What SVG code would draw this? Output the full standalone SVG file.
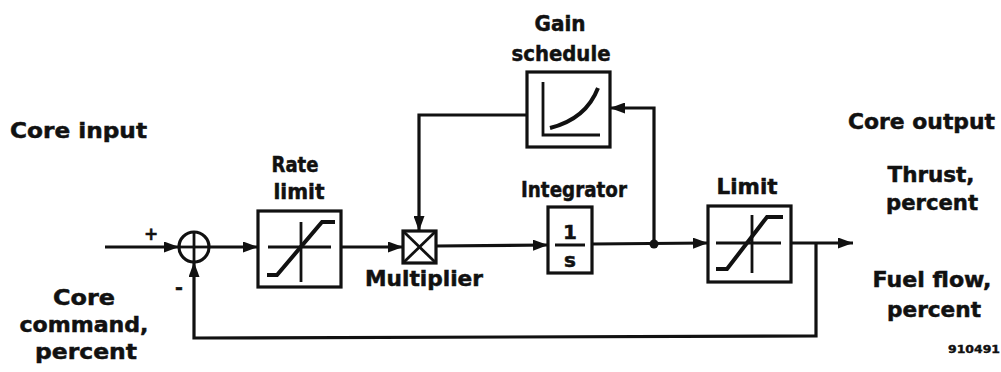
<svg xmlns="http://www.w3.org/2000/svg" width="1001" height="372" viewBox="0 0 1001 372">
<defs>
<style>
.t{font-family:"DejaVu Sans","Liberation Sans",Arial,sans-serif;font-weight:bold;font-size:21px;fill:#111;stroke:#111;stroke-width:0.5}
.c{text-anchor:middle}
.box{fill:#fff;stroke:#111;stroke-width:3.2}
.ln{fill:none;stroke:#111;stroke-width:3.2}
.g{fill:none;stroke:#111;stroke-width:4;stroke-linejoin:miter}
.g2{fill:none;stroke:#111;stroke-width:2.8}
</style>
<marker id="ah" viewBox="0 0 15 11" refX="15" refY="5.5" markerWidth="15" markerHeight="11" markerUnits="userSpaceOnUse" orient="auto">
<path d="M0,0 L15,5.5 L0,11 Z" fill="#111"/>
</marker>
</defs>
<rect width="1001" height="372" fill="#fff"/>

<g id="labels">
<text class="t" x="10" y="138" textLength="137" lengthAdjust="spacingAndGlyphs">Core input</text>
<text class="t" x="848" y="129" textLength="147" lengthAdjust="spacingAndGlyphs">Core output</text>
<text class="t c" x="931" y="182" textLength="87" lengthAdjust="spacingAndGlyphs">Thrust,</text>
<text class="t c" x="932" y="210" textLength="92" lengthAdjust="spacingAndGlyphs">percent</text>
<text class="t c" x="932" y="287" textLength="119" lengthAdjust="spacingAndGlyphs">Fuel flow,</text>
<text class="t c" x="934" y="317" textLength="94" lengthAdjust="spacingAndGlyphs">percent</text>
<text class="t c" x="84" y="305" textLength="62" lengthAdjust="spacingAndGlyphs">Core</text>
<text class="t c" x="84" y="332" textLength="129" lengthAdjust="spacingAndGlyphs">command,</text>
<text class="t c" x="86" y="359" textLength="102" lengthAdjust="spacingAndGlyphs">percent</text>
<text class="t" x="948" y="353" style="font-size:11px;stroke-width:0.4" textLength="52" lengthAdjust="spacingAndGlyphs">910491</text>
<text class="t" x="144" y="240" style="font-size:17px">+</text>
<text class="t" x="175" y="294" style="font-size:19px">-</text>
</g>

<g id="connectors">
<line class="ln" x1="105" y1="247" x2="179" y2="247" marker-end="url(#ah)"/>
<line class="ln" x1="209" y1="247" x2="258" y2="247" marker-end="url(#ah)"/>
<line class="ln" x1="341" y1="247" x2="403" y2="247" marker-end="url(#ah)"/>
<polyline class="ln" points="527,115 419,115 419,231" marker-end="url(#ah)"/>
<line class="ln" x1="436" y1="246" x2="548" y2="245" marker-end="url(#ah)"/>
<line class="ln" x1="592" y1="244" x2="708" y2="243" marker-end="url(#ah)"/>
<polyline class="ln" points="654,244 654,108 610,108" marker-end="url(#ah)"/>
<line class="ln" x1="791" y1="243" x2="853" y2="243" marker-end="url(#ah)"/>
<polyline class="ln" points="816,243 816,336 194,338 194,262" marker-end="url(#ah)"/>
<circle cx="654" cy="244" r="4.5" fill="#111"/>
</g>

<g id="sum">
<circle cx="194" cy="247" r="15" fill="#fff" stroke="#111" stroke-width="3.2"/>
<line class="g2" x1="179" y1="247" x2="209" y2="247"/>
<line class="g2" x1="194" y1="232" x2="194" y2="262"/>
</g>

<g id="rate-limit">
<text class="t c" x="295" y="172" textLength="47" lengthAdjust="spacingAndGlyphs">Rate</text>
<text class="t c" x="299" y="199" textLength="51" lengthAdjust="spacingAndGlyphs">limit</text>
<rect class="box" x="258" y="211" width="83" height="76"/>
<line class="g2" x1="268" y1="247" x2="331" y2="247"/>
<line class="g2" x1="301" y1="222" x2="301" y2="282"/>
<polyline class="g" points="267,275 277,275 322,222 335,222"/>
</g>

<g id="multiplier">
<rect class="box" x="403" y="231" width="33" height="32"/>
<line class="g2" x1="404" y1="232" x2="435" y2="262"/>
<line class="g2" x1="435" y1="232" x2="404" y2="262"/>
<text class="t" x="365" y="286" textLength="118" lengthAdjust="spacingAndGlyphs">Multiplier</text>
</g>

<g id="gain-schedule">
<text class="t c" x="560" y="31" textLength="51" lengthAdjust="spacingAndGlyphs">Gain</text>
<text class="t c" x="561" y="61" textLength="99" lengthAdjust="spacingAndGlyphs">schedule</text>
<rect class="box" x="527" y="72" width="83" height="75"/>
<polyline class="g2" points="543,82 543,135 600,135"/>
<path class="g" d="M550,128 Q586,119 598,88"/>
</g>

<g id="integrator">
<text class="t c" x="574" y="197" textLength="106" lengthAdjust="spacingAndGlyphs">Integrator</text>
<rect class="box" x="548" y="207" width="44" height="66"/>
<text class="t c" x="570" y="239" style="font-size:20px">1</text>
<line x1="555" y1="245" x2="585" y2="245" stroke="#111" stroke-width="3"/>
<text class="t c" x="570" y="267" style="font-size:20px">s</text>
</g>

<g id="limit">
<text class="t c" x="747" y="194" textLength="61" lengthAdjust="spacingAndGlyphs">Limit</text>
<rect class="box" x="708" y="206" width="83" height="76"/>
<line class="g2" x1="716" y1="243" x2="781" y2="243"/>
<line class="g2" x1="752" y1="215" x2="752" y2="273"/>
<polyline class="g" points="716,269 727,269 767,217 783,217"/>
</g>
</svg>
